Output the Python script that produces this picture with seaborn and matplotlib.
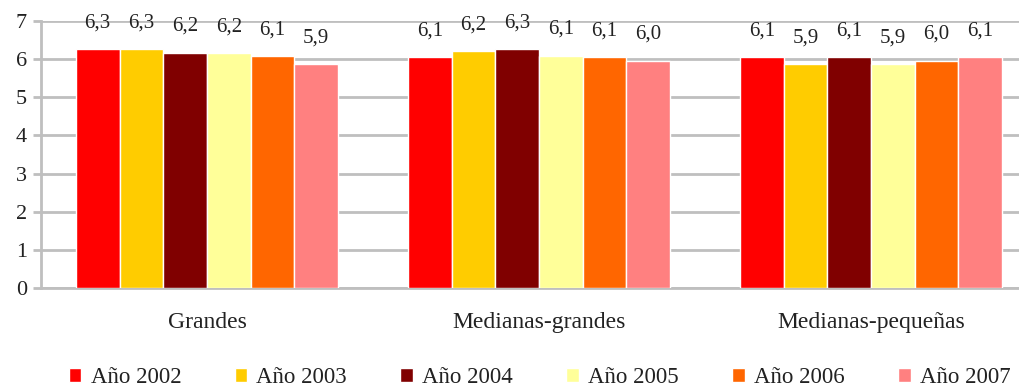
import pandas as pd
import matplotlib.pyplot as plt
import seaborn as sns

# Data
grupos = ["Grandes", "Medianas-grandes", "Medianas-pequeñas"]
anios = ["Año 2002", "Año 2003", "Año 2004", "Año 2005", "Año 2006", "Año 2007"]
grandes = [6.26, 6.26, 6.17, 6.16, 6.07, 5.88]
medianas_grandes = [6.06, 6.21, 6.26, 6.09, 6.06, 5.96]
medianas_pequenas = [6.06, 5.86, 6.06, 5.86, 5.96, 6.06]
colores = ["#FF0000", "#FFCC00", "#800000", "#FFFF99", "#FF6600", "#FF8080"]

rows = []
for g, vals in zip(grupos, [grandes, medianas_grandes, medianas_pequenas]):
    for a, v in zip(anios, vals):
        rows.append({"grupo": g, "anio": a, "valor": v})
df = pd.DataFrame(rows)

sns.set_style("white")
plt.rcParams["font.family"] = ["Liberation Serif", "DejaVu Serif"]
gris = "#BFBFBF"

fig = plt.figure(figsize=(10.2, 3.87), dpi=100)
ax = fig.add_axes([41/1020, 99/387, 996/1020, 267/387])

sns.barplot(data=df, x="grupo", y="valor", hue="anio", palette=colores,
            width=0.79, saturation=1, edgecolor="white", linewidth=1,
            ax=ax, zorder=3)

# value labels with decimal comma
for cont in ax.containers:
    labels = [f"{b.get_height():.1f}".replace(".", ",") for b in cont]
    ax.bar_label(cont, labels=labels, padding=12, fontsize=15, color="#222222")

ax.set_ylim(0, 7)
ax.set_xlim(-0.5, 2.5)
ax.set_yticks(range(0, 8))
ax.yaxis.grid(True, color=gris, linewidth=2, zorder=0)
ax.set_axisbelow(True)
ax.set_xlabel("")
ax.set_ylabel("")

for s in ["top", "right"]:
    ax.spines[s].set_visible(False)
for s in ["left", "bottom"]:
    ax.spines[s].set_color(gris)
    ax.spines[s].set_linewidth(2)

ax.set_xticks([-0.5, 0.5, 1.5, 2.5], minor=True)
ax.tick_params(axis="x", which="minor", length=6, width=2, color=gris, direction="out")
ax.tick_params(axis="x", which="major", length=0, pad=17, labelsize=17, labelcolor="#222222")
ax.tick_params(axis="y", length=6, width=2, color=gris, direction="out", pad=4,
               labelsize=16, labelcolor="#222222", left=True)

handles, labs = ax.get_legend_handles_labels()
ax.get_legend().remove()
fig.legend(handles, labs, loc="center", bbox_to_anchor=(0.529, 0.025), ncol=6,
           frameon=False, fontsize=16.5, handlelength=0.55, handleheight=0.55,
           handletextpad=0.4, columnspacing=2.33, labelcolor="#222222")

fig.savefig("out.png", dpi=100)
